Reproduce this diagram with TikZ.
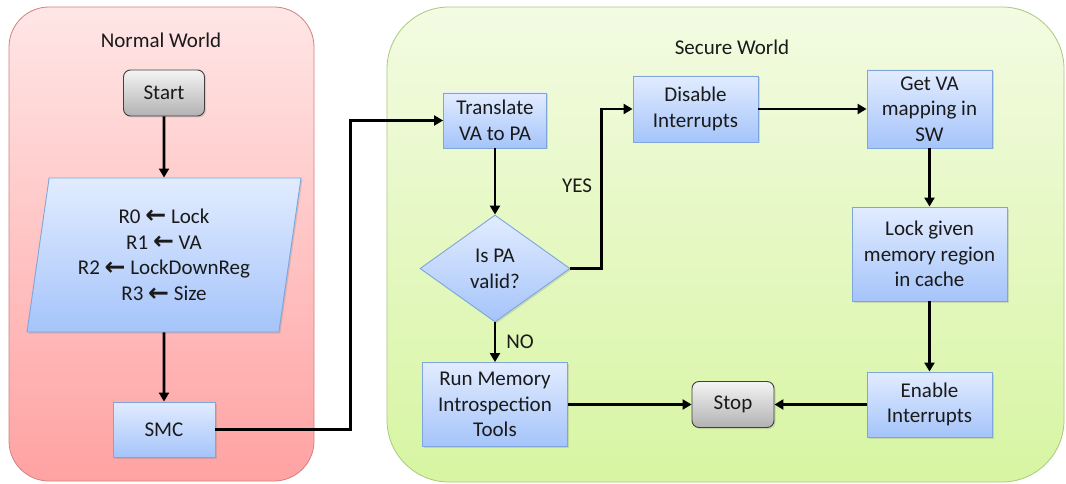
\documentclass[tikz,border=0pt]{standalone}
\usepackage{fontspec}
\setmainfont{Carlito}
\newfontfamily\symfont{DejaVu Sans}
\usetikzlibrary{shapes.geometric,arrows.meta,shadows}

\definecolor{nwtop}{HTML}{FFE6E6}
\definecolor{nwbot}{HTML}{FFA2A2}
\definecolor{nwline}{HTML}{D48080}
\definecolor{swtop}{HTML}{F3FBE2}
\definecolor{swbot}{HTML}{D7F5A2}
\definecolor{swline}{HTML}{A9C97B}
\definecolor{bltop}{HTML}{E2ECFF}
\definecolor{blbot}{HTML}{A5C4FA}
\definecolor{blline}{HTML}{7EA6DC}
\definecolor{grtop}{HTML}{F4F4F4}
\definecolor{grbot}{HTML}{B2B2B2}
\definecolor{grline}{HTML}{404040}
\definecolor{ink}{HTML}{1A1A1A}

% bold left arrow used in the register assignments
\newcommand{\la}{{\symfont\bfseries\fontsize{25}{25.7}\selectfont\raisebox{-0.5pt}{\symbol{"2190}}}}

\tikzset{
  txt/.style={font=\fontsize{21}{25.7}\selectfont, text=ink, align=center},
  world/.style={draw, line width=0.8pt, shading angle=0},
  procbox/.style={txt, rectangle, draw=blline, line width=0.9pt,
    top color=bltop, bottom color=blbot, inner sep=0pt,
    drop shadow={shadow xshift=1.5pt, shadow yshift=-1.5pt, opacity=0.25}},
  termbox/.style={txt, rectangle, rounded corners=7pt, draw=grline, line width=0.9pt,
    top color=grtop, bottom color=grbot, inner sep=0pt,
    drop shadow={shadow xshift=1.5pt, shadow yshift=-1.5pt, opacity=0.25}},
  iobox/.style={txt, trapezium, trapezium left angle=76.5, trapezium right angle=103.5,
    trapezium stretches body=true, draw=blline, line width=0.9pt,
    top color=bltop, bottom color=blbot, inner sep=0pt,
    drop shadow={shadow xshift=1.5pt, shadow yshift=-1.5pt, opacity=0.25}},
  decbox/.style={txt, diamond, draw=blline, line width=0.9pt,
    top color=bltop, bottom color=blbot, inner sep=0pt,
    drop shadow={shadow xshift=1.5pt, shadow yshift=-1.5pt, opacity=0.25}},
  flow/.style={draw=black, line width=2.6pt, -{Triangle[length=9pt,width=10pt]}},
  lbl/.style={txt}
}

\begin{document}
\begin{tikzpicture}[x=1pt, y=-1pt]
\useasboundingbox (0,0) rectangle (1066,484);

% the two worlds
\fill[white] (0,0) rectangle (1066,484);
\draw[world, draw=nwline, top color=nwtop, bottom color=nwbot, rounded corners=40pt]
  (9,7) rectangle (314,481);
\draw[world, draw=swline, top color=swtop, bottom color=swbot, rounded corners=62pt]
  (387,7) rectangle (1064,482);
\node[lbl] (nwtitle) at (161,40) {Normal World};
\node[lbl] (swtitle) at (732,47) {Secure World};

% normal world flow
\node[termbox, minimum width=81pt, minimum height=46pt] (start) at (164,93) {Start};
\node[iobox, minimum width=274pt, minimum height=154pt] (regs) at (164,255)
  {R0 \la{} Lock\\ R1 \la{} VA\\ R2 \la{} LockDownReg\\ R3 \la{} Size};
\node[procbox, minimum width=102pt, minimum height=55pt] (smc) at (164,429.5) {SMC};

% secure world flow
\node[procbox, minimum width=103pt, minimum height=55pt] (trans) at (495,120.5) {Translate\\VA to PA};
\node[decbox, minimum width=150pt, minimum height=107pt, aspect=1.4] (valid) at (495,268.5) {Is PA\\valid?};
\node[procbox, minimum width=125pt, minimum height=66pt] (dis) at (695.5,109) {Disable\\Interrupts};
\node[procbox, minimum width=125pt, minimum height=78pt] (getva) at (929.5,109) {Get VA\\mapping in\\SW};
\node[procbox, minimum width=155pt, minimum height=94pt] (lock) at (929.5,254) {Lock given\\memory region\\in cache};
\node[procbox, minimum width=125pt, minimum height=65pt] (enable) at (929.5,404.5) {Enable\\Interrupts};
\node[termbox, minimum width=82pt, minimum height=46pt] (stop) at (733,404.5) {Stop};
\node[procbox, minimum width=145pt, minimum height=84pt] (run) at (495,404.5) {Run Memory\\Introspection\\Tools};

\node[lbl] (yes) at (577,186) {YES};
\node[lbl] (no) at (520,342) {NO};

% connectors
\draw[flow] (start.south) -- (regs.north);
\draw[flow] (regs.south) -- (smc.north);
\draw[flow] (smc.east) -- ++(135,0) |- (trans.west);
\draw[flow] (trans.south) -- (valid.north);
\draw[flow] (valid.east) -- ++(31,0) |- (dis.west);
\draw[flow] (valid.south) -- (run.north);
\draw[flow] (dis.east) -- (getva.west);
\draw[flow] (getva.south) -- (lock.north);
\draw[flow] (lock.south) -- (enable.north);
\draw[flow] (enable.west) -- (stop.east);
\draw[flow] (run.east) -- (stop.west);
\end{tikzpicture}
\end{document}
